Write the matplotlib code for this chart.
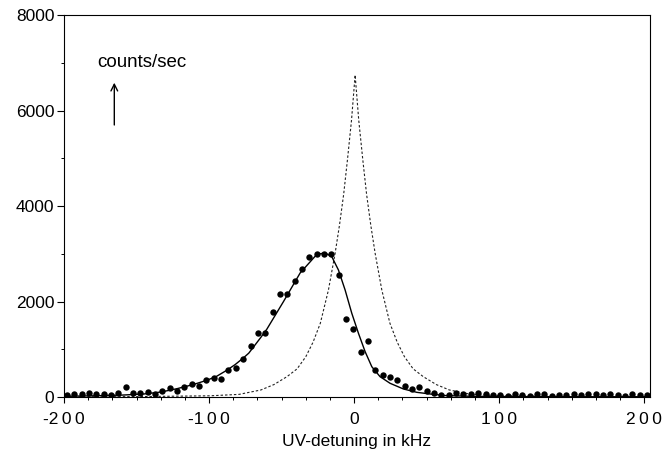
import numpy as np
import matplotlib
matplotlib.use("Agg")
import matplotlib.pyplot as plt
from matplotlib.ticker import MultipleLocator

plt.rcParams["font.family"] = ["Liberation Sans", "DejaVu Sans"]

# measured count rates, one point every ~5 kHz from -198 to +202 kHz
DOT_X = np.linspace(-198, 202, 80)
DOT_Y = [42, 56, 70, 77, 56, 56, 42, 77, 203, 77,
         84, 98, 56, 133, 182, 133, 217, 273, 230, 360,
         405, 371, 566, 601, 797, 1062, 1349, 1340, 1778, 2150,
         2150, 2425, 2687, 2942, 2995, 3005, 2995, 2550, 1635, 1422,
         940, 1180, 563, 458, 426, 350, 235, 161, 203, 122,
         91, 42, 42, 77, 56, 56, 77, 56, 42, 42,
         21, 56, 35, 21, 56, 56, 28, 42, 42, 56,
         42, 56, 63, 42, 56, 42, 28, 56, 42, 42]

# fitted line (solid)
FIT_X = [-200, -180, -160, -145, -133, -122, -111, -101.6, -95, -87.8, -82,
         -76.3, -72.6, -64.8, -60.2, -48.7, -37.2, -25.7, -20, -15.4, -10.8,
         -6.2, -1.6, 3.0, 7.6, 12.2, 17.9, 24.8, 34, 43.2, 52.4, 63, 80, 100,
         150, 204]
FIT_Y = [15, 25, 40, 63, 105, 175, 260, 350, 430, 560, 680,
         820, 920, 1230, 1420, 2000, 2600, 2990, 3020, 2942, 2662,
         2243, 1755, 1335, 950, 635, 426, 287, 168, 98, 63, 30, 15, 10,
         5, 5]

# unperturbed line (dashed)
DASH_X = [-199.3, -149.3, -99.3, -79.3, -64.3, -55.3, -46.3, -39.3, -33.3,
          -28.3, -23.3, -17.7, -13.1, -10.1, -7.2, -4.6, -1.8, 0.7,
          3.2, 6.0, 8.6, 11.5, 14.5, 19.1, 24.7, 29.7, 34.7, 40.7, 47.7,
          56.7, 65.7, 80.7, 100.7, 150.7, 200.7]
DASH_Y = [4, 8, 25, 55, 147, 260, 426, 590, 845,
          1150, 1545, 2243, 3012, 3600, 4250, 4970, 5800, 6750,
          5800, 4970, 4250, 3600, 3012, 2243, 1545, 1150, 845, 590, 426,
          260, 147, 55, 25, 8, 4]

XTICKS = [-200, -100, 0, 100, 200]
XTICK_LABELS = ["-2\u20090\u20090", "-1\u20090\u20090", "0",
                "1\u20090\u20090", "2\u20090\u20090"]
YTICKS = [0, 2000, 4000, 6000, 8000]

fig = plt.figure(figsize=(6.69, 4.58), dpi=100)
ax = fig.add_axes([0.0957, 0.1332, 0.8759, 0.8332])

ax.plot(DASH_X, DASH_Y, color="#222222", lw=0.8, ls=(0, (2.2, 1.8)))
ax.plot(FIT_X, FIT_Y, color="black", lw=1.0)
ax.plot(DOT_X, DOT_Y, "o", color="black", ms=4.6, mew=0)

ax.set_xlim(-200, 204)
ax.set_ylim(0, 8000)
ax.set_xticks(XTICKS)
ax.set_xticklabels(XTICK_LABELS)
ax.set_yticks(YTICKS)
ax.xaxis.set_minor_locator(MultipleLocator(100 / 6))
ax.yaxis.set_minor_locator(MultipleLocator(1000))
ax.tick_params(axis="both", which="major", labelsize=12.5, direction="out",
               length=4, width=0.8, colors="black")
ax.tick_params(axis="x", which="major", pad=7)
ax.tick_params(axis="y", which="major", length=5, pad=2)
ax.tick_params(axis="both", which="minor", direction="out", length=2.5, width=0.7)
for s in ax.spines.values():
    s.set_linewidth(0.8)

ax.set_xlabel("UV-detuning in kHz", fontsize=12.5, labelpad=5)

ax.text(0.056, 0.8656, "counts/sec", transform=ax.transAxes, fontsize=13.5,
        ha="left", va="baseline")
ax.annotate("", xy=(0.0858, 0.8236), xytext=(0.0858, 0.7128),
            xycoords="axes fraction", textcoords="axes fraction",
            arrowprops=dict(arrowstyle="->", lw=1.0, color="black",
                            shrinkA=0, shrinkB=0, mutation_scale=12))

fig.savefig("out.png", dpi=100)
